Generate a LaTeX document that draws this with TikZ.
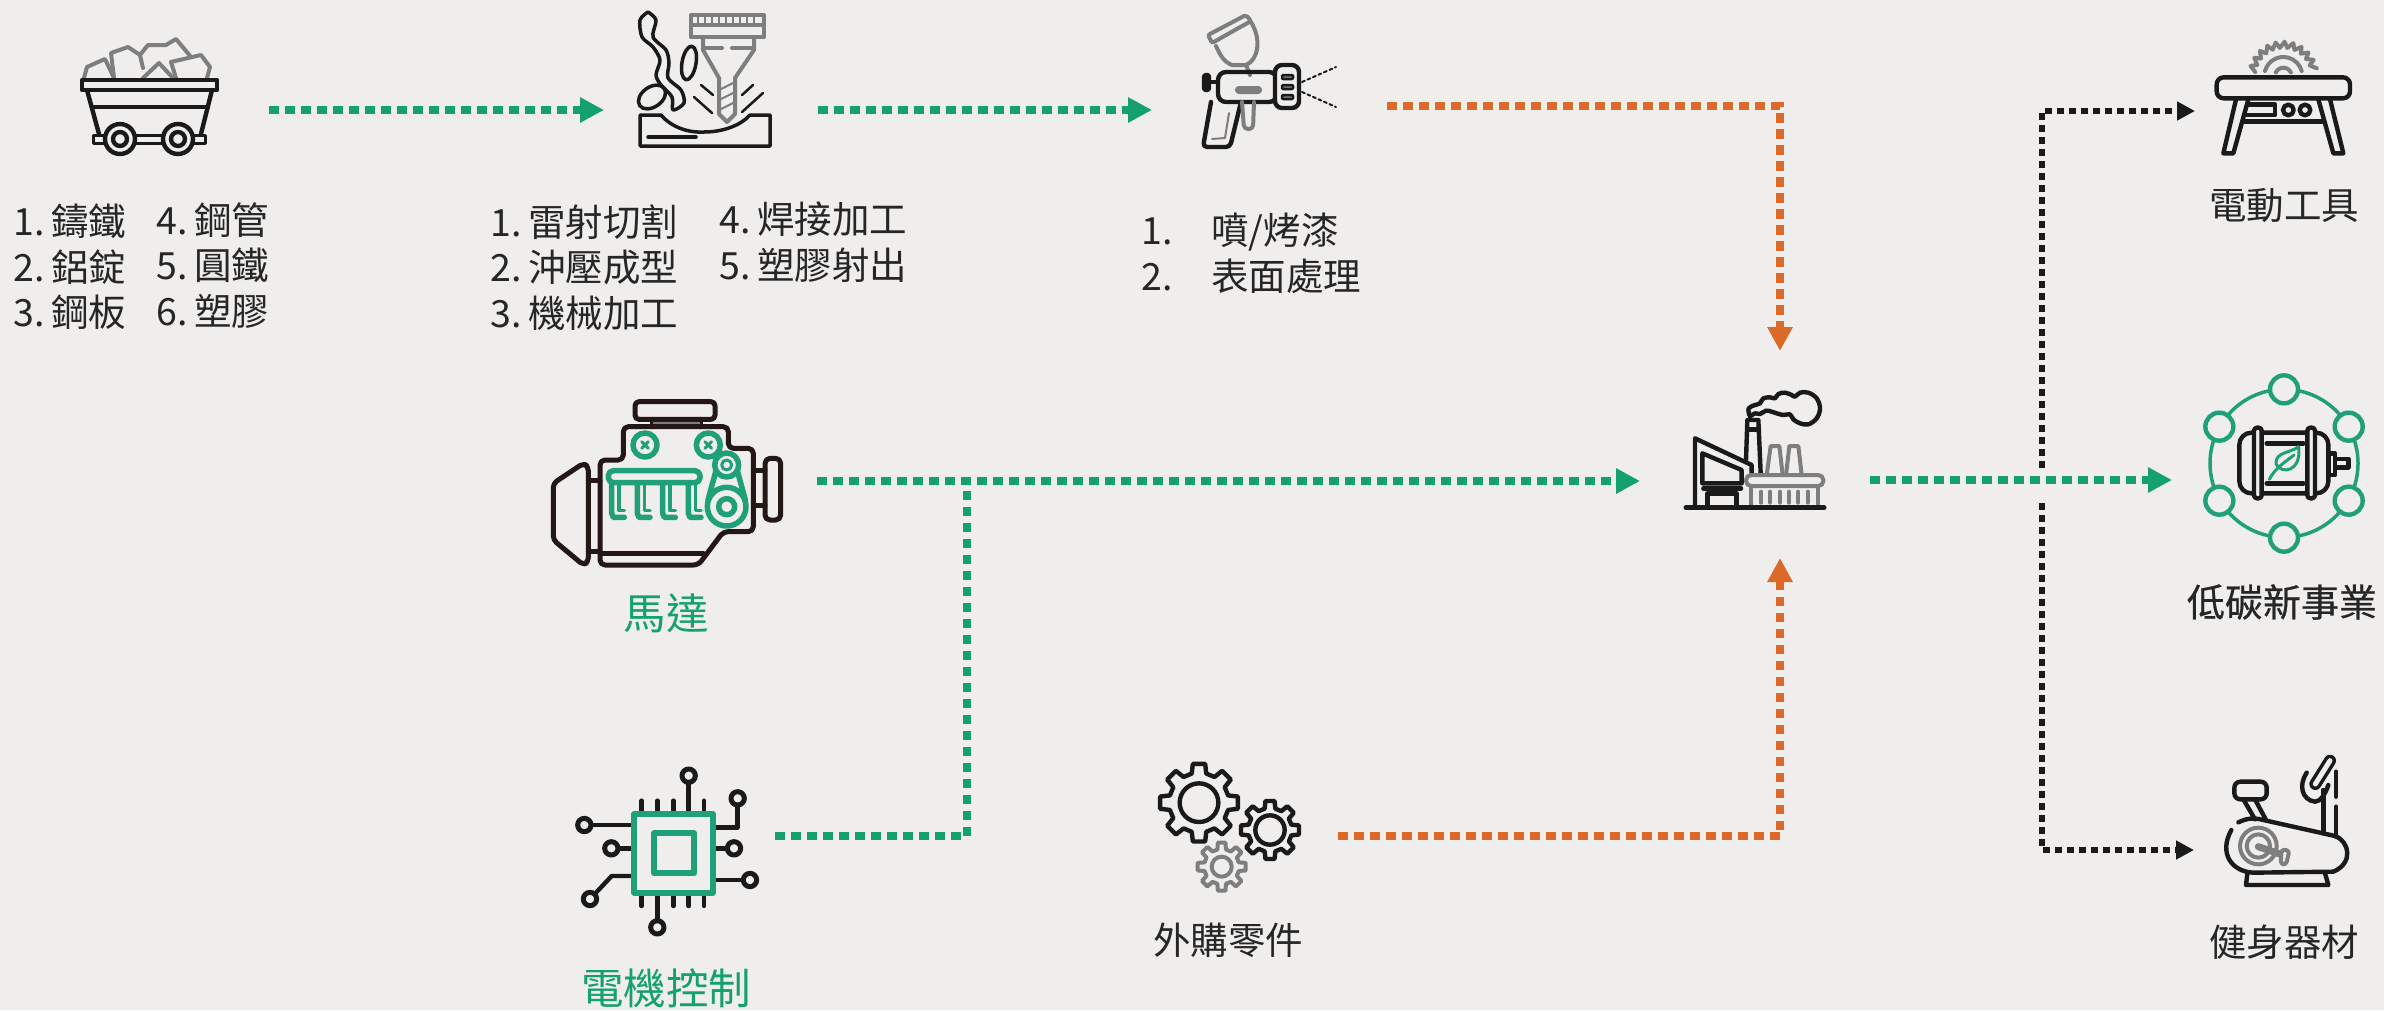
\documentclass[tikz,border=0pt]{standalone}
\usepackage{fontspec}
\setmainfont[WordSpace=0.5]{Noto Sans CJK TC}
\newfontfamily\boldishfont[FakeBold=0.7]{Noto Sans CJK TC}
\usetikzlibrary{arrows.meta}
\definecolor{pagebg}{HTML}{EFEEEC}
\definecolor{flowgreen}{HTML}{14A06F}
\definecolor{floworange}{HTML}{DB6A28}
\definecolor{iconblack}{HTML}{1A1A1A}
\definecolor{icongray}{HTML}{7E7E7E}
\definecolor{icongreen}{HTML}{1FA078}
\definecolor{engineline}{HTML}{231815}
\definecolor{textdark}{HTML}{262626}
\tikzset{
  iconbox/.style={inner sep=0pt, outer sep=0pt},
  flowline/.style={line width=8pt, dash pattern=on 9.5pt off 6.5pt, -{Triangle[length=24pt,width=24pt]}},
  flowthin/.style={line width=6pt, dash pattern=on 7pt off 5pt, draw=iconblack, -{Triangle[length=18pt,width=18pt]}},
  iconzoom/.style={shift={#1}, scale=1/3},
  blackline/.style={draw=iconblack, line width=4.4pt, line join=round, line cap=round},
  grayline/.style={draw=icongray, line width=4pt, line join=round, line cap=round},
  greenline/.style={draw=icongreen, line width=4.4pt, line join=round, line cap=round},
  engblack/.style={draw=engineline, line width=5pt, line join=round, line cap=round},
  listtext/.style={anchor=north west, inner sep=0pt, align=left, text=textdark, font=\fontsize{37.5}{45.5}\selectfont},
  labeltext/.style={inner sep=0pt, text=textdark, font=\fontsize{37.5}{44}\selectfont},
  greenlabel/.style={inner sep=0pt, text=flowgreen, font=\fontsize{42.5}{48}\selectfont},
}
% one toothed wheel: centre, outer radius, root radius, hole radius
\newcommand{\gearshape}[5]{
  \begin{scope}[shift={#1}]
    \draw[#5] (-14:#3) \foreach \a in {0,45,...,315} { -- (\a-14:#3) -- (\a-9:#2) -- (\a+9:#2) -- (\a+14:#3) } -- cycle;
    \draw[#5] (0,0) circle (#4);
  \end{scope}
}
\begin{document}
\begin{tikzpicture}[x=1pt, y=-1pt]
\fill[pagebg] (0,0) rectangle (2384,1010);
\useasboundingbox (0,0) rectangle (2384,1010);

% flow anchors
\node[iconbox, minimum width=199pt, minimum height=130pt] (cart) at (169.5,110) {};
\node[iconbox, minimum width=214pt, minimum height=130pt] (laser) at (711,110) {};
\node[iconbox, minimum width=235pt, minimum height=130pt] (spray) at (1269.5,106) {};
\node[iconbox, minimum width=277pt, minimum height=160pt] (engine) at (678.5,481) {};
\node[iconbox, minimum width=215pt, minimum height=160pt] (chip) at (667.5,836) {};
\node[iconbox, minimum width=183pt, minimum height=130pt] (gears) at (1246.5,836) {};
\node[iconbox, minimum width=230pt, minimum height=150pt] (factory) at (1755,480) {};
\node[iconbox, minimum width=180pt, minimum height=130pt] (table) at (2285,111) {};
\node[iconbox, minimum width=212pt, minimum height=170pt] (motor) at (2278,480) {};
\node[iconbox, minimum width=181pt, minimum height=130pt] (bike) at (2284.5,850) {};
\coordinate (factorytop) at (1780,351);
\coordinate (factorybot) at (1780,558);
\coordinate (enginejoin) at (967,481);
\coordinate (splitup) at (2042,468);
\coordinate (splitdown) at (2042,503);

% connectors
\draw[flowline, color=flowgreen] (cart.east) -- (laser.west);
\draw[flowline, color=flowgreen] (laser.east) -- (laser.east -| spray.west);
\draw[flowline, color=floworange] (spray.east) -| (factorytop);
\draw[flowline, color=flowgreen] (engine.east) -- (engine.east -| factory.west);
\draw[line width=8pt, dash pattern=on 9.5pt off 6.5pt, color=flowgreen] (chip.east) -| (enginejoin);
\draw[flowline, color=floworange] (gears.east) -| (factorybot);
\draw[flowline, color=flowgreen] (factory.east) -- (motor.west);
\draw[flowthin] (splitup) |- (table.west);
\draw[flowthin] (splitdown) |- (bike.west);

% cart
\draw[grayline] (84,78) -- (87,67) -- (105,59) -- (114,78);
\draw[grayline] (114,78) -- (111,53) -- (128,47) -- (140,55) -- (143,68);
\draw[grayline] (140,55) -- (148,45) -- (166,45) -- (176,39) -- (191,57);
\draw[grayline] (171,62) -- (176,78);
\draw[grayline] (171,62) -- (201,55) -- (210,67) -- (207,78);
\draw[grayline] (143,78) -- (159,63) -- (173,78);
\draw[blackline] (82,80) rectangle (217,90);
\draw[blackline] (87,90) -- (99,134);
\draw[blackline] (212,90) -- (201,134);
\draw[blackline] (92,107) -- (208,107);
\draw[blackline, line width=3pt] (93,135) rectangle (205,143);
\draw[blackline, fill=pagebg] (120,139) circle (15);
\draw[blackline, fill=pagebg] (178,139) circle (15);
\draw[blackline] (120,139) circle (7);
\draw[blackline] (178,139) circle (7);

% laser cutter
\draw[blackline, line width=3.5pt] (640,115) -- (661,115) .. controls (672,128) and (690,133) .. (704,132) .. controls (722,132) and (740,126) .. (750,115) -- (770,115) -- (770,146) -- (640,146) -- cycle;
\draw[blackline, line width=3.5pt] (648,137) -- (696,137);
\draw[blackline, line width=3.5pt] plot[smooth] coordinates {(648,12) (640,20) (642,37) (653,47) (660,60) (656,75) (661,85) (672,97) (673,110) (684,103) (681,90) (668,78) (669,63) (666,50) (653,37) (656,20) (648,12)};
\draw[blackline, line width=3.5pt, rotate around={-10:(689,63)}] (689,63) ellipse (7 and 17);
\draw[blackline, line width=3.5pt, rotate around={35:(652,97)}] (652,97) ellipse (15 and 10);
\draw[grayline] (691,15) rectangle (764,37);
\draw[grayline] (691,25) -- (764,25);
\foreach \x in {698,705,...,757} { \draw[grayline, line width=2pt] (\x,17) -- (\x,25); }
\draw[grayline] (703,37) -- (703,50) -- (719,78) -- (719,114) -- (727,122) -- (735,114) -- (735,78) -- (754,50) -- (754,37);
\draw[grayline] (703,48) -- (722,48);
\draw[grayline] (732,48) -- (754,48);
\draw[grayline, line width=2pt] (719,90) -- (735,82);
\draw[grayline, line width=2pt] (719,100) -- (735,92);
\draw[grayline, line width=2pt] (719,110) -- (735,102);
\draw[blackline, line width=2.5pt] (701,85) -- (713,95);
\draw[blackline, line width=2.5pt] (694,97) -- (712,113);
\draw[blackline, line width=2.5pt] (753,85) -- (742,95);
\draw[blackline, line width=2.5pt] (763,93) -- (742,112);

% spray gun
\draw[grayline, rounded corners=2pt] (1208,35) -- (1246,15) -- (1251,21) -- (1212,43) -- cycle;
\draw[grayline] (1216,46) .. controls (1220,55) and (1224,62) .. (1232,65) -- (1246,65) .. controls (1258,60) and (1262,40) .. (1251,22);
\draw[grayline] (1246,65) -- (1250,75);
\draw[blackline, rounded corners=8pt] (1218,72) rectangle (1277,102);
\draw[grayline, fill=iconblack!70, rounded corners=2pt] (1237,88) rectangle (1260,92);
\draw[blackline, fill=pagebg, rounded corners=7pt] (1275,65) rectangle (1299,108);
\foreach \y in {75,85,95} { \draw[blackline, line width=2.5pt, fill=icongray, rounded corners=1pt] (1282,\y) rectangle (1293,\y+4); }
\draw[blackline, fill=iconblack, rounded corners=2pt] (1204,75) rectangle (1209,90);
\draw[blackline] (1209,82) -- (1218,82);
\draw[blackline, rounded corners=4pt] (1211,102) -- (1203,147) -- (1230,147) -- (1241,102);
\draw[grayline, line width=2pt] (1229,113) -- (1225,138) -- (1212,139);
\draw[grayline, rounded corners=4pt] (1242,102) -- (1244,129) -- (1253,129) -- (1254,102);
\draw[blackline, line width=2pt, dashed] (1302,82) -- (1336,67);
\draw[blackline, line width=2pt, dashed] (1302,92) -- (1336,107);

% engine
\begin{scope}[iconzoom={(520,380)}]
\draw[engblack, rounded corners=4pt] (345,65) rectangle (585,118);
\draw[engblack] (398,118) -- (398,140);
\draw[engblack] (540,118) -- (540,140);
\draw[icongray, line width=2pt] (398,130) -- (540,130);
\draw[engblack, rounded corners=5pt] (310,240) -- (310,140) -- (625,140) -- (625,205) -- (700,205) -- (700,455) -- (610,455) -- (535,555) -- (240,555) -- (240,240) -- cycle;
\draw[engblack] (245,520) -- (550,520);
\draw[engblack, rounded corners=4pt] (190,250) -- (100,310) -- (100,480) -- (190,555) -- (205,545) -- (205,260) -- cycle;
\draw[engblack] (205,300) -- (240,300);
\draw[engblack] (205,515) -- (240,515);
\draw[engblack] (705,270) -- (735,270);
\draw[engblack] (705,375) -- (735,375);
\draw[engblack, rounded corners=5pt] (735,235) rectangle (782,420);
\foreach \x in {375,565} {
  \draw[greenline, line width=5.5pt] (\x,195) circle (36);
  \draw[greenline, line width=3pt] (\x-10,185) -- (\x+10,205);
  \draw[greenline, line width=3pt] (\x+10,185) -- (\x-10,205);
}
\draw[greenline, line width=5.5pt, rounded corners=5pt] (265,272) rectangle (540,308);
\foreach \x in {275,352,428,505} {
  \draw[greenline, line width=5.5pt] (\x,310) -- (\x,400) -- (\x+5,412) -- (\x+38,412);
  \draw[greenline, line width=3.5pt] (\x+22,310) -- (\x+22,392) -- (\x+38,392);
}
\draw[greenline, line width=5.5pt, fill=pagebg] (620,255) circle (36);
\draw[greenline, line width=3pt] (620,255) circle (15);
\draw[greenline, line width=5.5pt] (588,272) -- (564,360);
\draw[greenline, line width=5.5pt] (652,272) -- (676,360);
\draw[greenline, line width=5.5pt, fill=pagebg] (620,380) circle (58);
\draw[greenline, line width=5.5pt] (620,380) circle (24);
\end{scope}

% chip
\begin{scope}[iconzoom={(540,740)}]
\foreach \x in {305,352,400,492} { \draw[blackline] (\x,182) -- (\x,222); }
\foreach \x in {305,400,446,492} { \draw[blackline] (\x,458) -- (\x,498); }
\draw[blackline] (446,222) -- (446,128);
\draw[blackline] (352,458) -- (352,540);
\draw[blackline] (283,255) -- (155,255);
\draw[blackline] (283,325) -- (235,325);
\draw[blackline] (283,408) -- (215,408) -- (168,458);
\draw[blackline] (518,262) -- (593,262) -- (593,198);
\draw[blackline] (518,325) -- (560,325);
\draw[blackline] (518,420) -- (608,420);
\foreach \cx/\cy in {446/107, 352/562, 133/255, 214/325, 150/477, 593/175, 582/325, 630/420} {
  \draw[blackline, line width=5pt] (\cx,\cy) circle (20);
}
\draw[greenline, line width=6pt] (283,222) rectangle (518,458);
\draw[greenline, line width=6pt] (342,280) rectangle (462,400);
\end{scope}

% gears
\begin{scope}[iconzoom={(1120,740)}]
\gearshape{(237,188)}{118}{90}{58}{blackline}
\gearshape{(450,270)}{88}{66}{44}{blackline}
\gearshape{(305,380)}{73}{53}{30}{grayline, line width=4pt}
\end{scope}

% factory
\begin{scope}[iconzoom={(1660,370)}]
\draw[blackline] plot[smooth, tension=0.6] coordinates {(268,135) (266,115) (285,105) (300,100) (310,85) (330,82) (345,85) (355,72) (375,68) (395,75) (405,80) (420,68) (445,68) (470,85) (480,115) (470,145) (445,163) (420,160) (400,148) (390,133) (370,135) (350,130) (335,125) (318,122) (300,132) (285,130) (270,140)};
\draw[blackline] (258,270) -- (262,150) -- (295,150) -- (302,310);
\draw[blackline] (262,178) -- (297,178);
\draw[blackline] (105,413) -- (105,205) -- (275,285) -- (275,310);
\draw[blackline] (127,340) -- (127,250) -- (245,300) -- (245,340) -- cycle;
\draw[blackline] (130,355) -- (243,355);
\draw[blackline] (143,413) -- (143,370) -- (230,370) -- (230,413);
\draw[grayline] (320,315) -- (332,228) -- (358,228) -- (368,315);
\draw[grayline] (378,315) -- (388,228) -- (415,228) -- (425,315);
\draw[grayline, fill=pagebg, rounded corners=5pt] (258,315) rectangle (490,348);
\draw[grayline] (272,348) -- (272,413);
\draw[grayline] (475,348) -- (475,413);
\foreach \x in {303,331,359,387,415,443} { \draw[grayline] (\x,365) -- (\x,398); }
\draw[blackline, line width=5pt] (78,413) -- (492,413);
\end{scope}

% table saw
\begin{scope}[iconzoom={(2160,0)}]
\begin{scope}[shift={(370,228)}]
\draw[grayline] (188:85) \foreach \a in {188,203,...,345} { -- (\a:85) -- (\a+9:103) };
\draw[grayline] (195:57) arc (195:345:57);
\draw[grayline] (205:25) arc (205:335:25);
\end{scope}
\draw[blackline, fill=pagebg, rounded corners=7pt] (170,232) rectangle (570,295);
\draw[blackline] (228,298) -- (190,460) -- (220,460) -- (265,298);
\draw[blackline] (475,298) -- (520,460) -- (550,460) -- (510,298);
\draw[blackline] (250,365) -- (490,365);
\draw[blackline] (262,314) -- (345,314) -- (345,345) -- (256,345);
\draw[blackline] (385,330) circle (16);
\draw[blackline] (435,330) circle (16);
\end{scope}

% motor
\begin{scope}[iconzoom={(2180,360)}]
\draw[greenline, line width=3.5pt] (312,310) circle (222);
\foreach \cx/\cy in {312/88, 312/533, 118/200, 506/200, 118/422, 506/422} {
  \draw[greenline, fill=pagebg] (\cx,\cy) circle (42);
}
\draw[blackline, rounded corners=12pt] (178,218) rectangle (445,400);
\draw[blackline] (445,280) rectangle (465,345);
\draw[blackline] (465,297) rectangle (505,322);
\draw[blackline, fill=pagebg, rounded corners=3pt] (222,203) rectangle (245,415);
\draw[blackline, fill=pagebg, rounded corners=3pt] (382,203) rectangle (405,415);
\draw[blackline] (260,250) -- (370,250);
\draw[blackline] (260,370) -- (370,370);
\draw[greenline, line width=3pt] (356,260) .. controls (330,280) and (285,275) .. (288,312) .. controls (305,345) and (365,335) .. (356,260);
\draw[greenline, line width=3pt] (268,358) .. controls (285,325) and (310,310) .. (342,285);
\end{scope}

% bike
\begin{scope}[iconzoom={(2160,740)}]
\begin{scope}[shift={(295,318)}]
\draw[grayline] (0,0) circle (55);
\draw[grayline] (0,0) circle (35);
\end{scope}
\draw[grayline, line width=7pt] (295,320) -- (368,345);
\draw[grayline, fill=pagebg, rounded corners=3pt] (365,328) -- (388,332) -- (378,374) -- (362,372) -- cycle;
\draw[blackline, rounded corners=6pt] (223,125) rectangle (320,178);
\draw[blackline] (250,178) -- (285,238);
\draw[blackline] (285,178) -- (318,240);
\draw[blackline] (235,247) .. controls (260,235) and (280,232) .. (310,240) -- (525,288) .. controls (570,305) and (580,370) .. (520,395) -- (280,398) .. controls (215,395) and (175,340) .. (214,270);
\draw[blackline] (262,400) -- (258,435) -- (505,435) -- (495,400);
\draw[blackline] (490,280) -- (490,150);
\draw[blackline] (528,290) -- (528,200);
\draw[blackline] (528,170) -- (528,95);
\draw[blackline, line width=12pt] (510,62) -- (466,132);
\draw[draw=pagebg, line width=5pt, line cap=round] (510,62) -- (466,132);
\draw[blackline] (440,98) .. controls (415,135) and (425,180) .. (465,185) .. controls (480,185) and (495,165) .. (505,135);
\end{scope}

% texts
\node[listtext] (rawa) at (13,204) {1. 鑄鐵\\2. 鋁錠\\3. 鋼板};
\node[listtext] (rawb) at (156,202) {4. 鋼管\\5. 圓鐵\\6. 塑膠};
\node[listtext] (cuta) at (490,204) {1. 雷射切割\\2. 沖壓成型\\3. 機械加工};
\node[listtext] (cutb) at (719,202) {4. 焊接加工\\5. 塑膠射出};
\node[listtext] (coat) at (1141,213) {1.\hspace*{39pt}噴/烤漆\\2.\hspace*{39pt}表面處理};
\node[greenlabel] (enginelabel) at (666,613) {馬達};
\node[greenlabel] (chiplabel) at (666,988) {電機控制};
\node[labeltext] (gearslabel) at (1228,940) {外購零件};
\node[labeltext] (tablelabel) at (2284,206) {電動工具};
\node[labeltext, font=\fontsize{38}{44}\boldishfont] (motorlabel) at (2282,602) {低碳新事業};
\node[labeltext] (bikelabel) at (2284,942) {健身器材};
\end{tikzpicture}
\end{document}
